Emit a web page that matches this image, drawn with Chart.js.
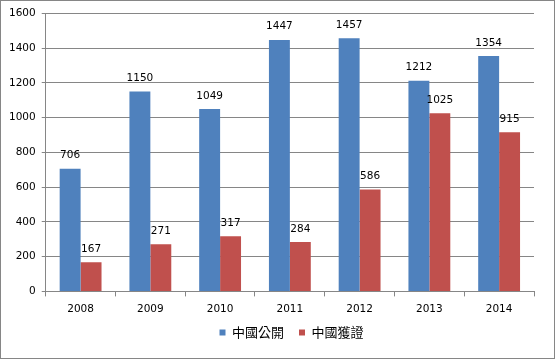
<!DOCTYPE html>
<html>
<head>
<meta charset="utf-8">
<script src="https://cdn.jsdelivr.net/npm/chart.js@4.4.1/dist/chart.umd.min.js"></script>
<style>
  html, body { margin: 0; padding: 0; background: #fff; }
  #wrap { position: relative; width: 553px; height: 357px; border: 1px solid #868686; }
</style>
</head>
<body>
<div id="wrap"><canvas id="chart" width="553" height="357"></canvas></div>
<script>
const years = ["2008", "2009", "2010", "2011", "2012", "2013", "2014"];
const published = [706, 1150, 1049, 1447, 1457, 1212, 1354];
const granted = [167, 271, 317, 284, 586, 1025, 915];
const yTicks = [0, 200, 400, 600, 800, 1000, 1200, 1400, 1600];

const gray = "#868686";
const fontFamily = "'DejaVu Sans', sans-serif";

// draw the value above each bar
const barLabels = {
  id: "barLabels",
  afterDatasetsDraw(chart) {
    const ctx = chart.ctx;
    ctx.save();
    ctx.font = "10.5px " + fontFamily;
    ctx.fillStyle = "#000";
    ctx.textAlign = "center";
    ctx.textBaseline = "bottom";
    chart.data.datasets.forEach((ds, i) => {
      chart.getDatasetMeta(i).data.forEach((bar, j) => {
        ctx.fillText(ds.data[j], bar.x, bar.y - 8);
      });
    });
    ctx.restore();
  }
};

// legend a bit right of centre like the original; x axis height was
// trimmed in afterFit, so give its labels their clip room back
const layoutFix = {
  id: "layoutFix",
  afterLayout(chart) {
    chart.legend.left += 23;
    chart.legend.right += 23;
    chart.scales.x.bottom += 12;
  }
};

const ctx = document.getElementById("chart").getContext("2d");
new Chart(ctx, {
  type: "bar",
  data: {
    labels: years,
    datasets: [
      { label: "中國公開", data: published, backgroundColor: "#4F81BD" },
      { label: "中國獲證", data: granted, backgroundColor: "#C0504D" }
    ]
  },
  options: {
    responsive: false,
    animation: false,
    categoryPercentage: 0.6,
    barPercentage: 1,
    layout: { padding: { left: 2, right: 20, top: 6, bottom: 9 } },
    plugins: {
      legend: {
        position: "bottom",
        labels: {
          boxWidth: 6,
          boxHeight: 6,
          padding: 15,
          color: "#000",
          font: { size: 13, family: "'Noto Sans CJK TC', sans-serif" }
        }
      },
      tooltip: { enabled: false }
    },
    scales: {
      x: {
        afterFit: (scale) => { scale.height -= 12; },
        grid: { drawOnChartArea: false, drawTicks: true, tickLength: 5, color: gray, offset: true },
        border: { color: gray },
        ticks: { color: "#000", font: { size: 10.5, family: fontFamily }, padding: 7 }
      },
      y: {
        min: 0,
        max: 1600,
        afterBuildTicks: (axis) => { axis.ticks = yTicks.map(v => ({ value: v })); },
        grid: { color: gray, tickLength: 4 },
        border: { color: gray },
        ticks: { color: "#000", font: { size: 10.5, family: fontFamily }, padding: 6, callback: (v) => String(v) }
      }
    }
  },
  plugins: [barLabels, layoutFix]
});
</script>
</body>
</html>
